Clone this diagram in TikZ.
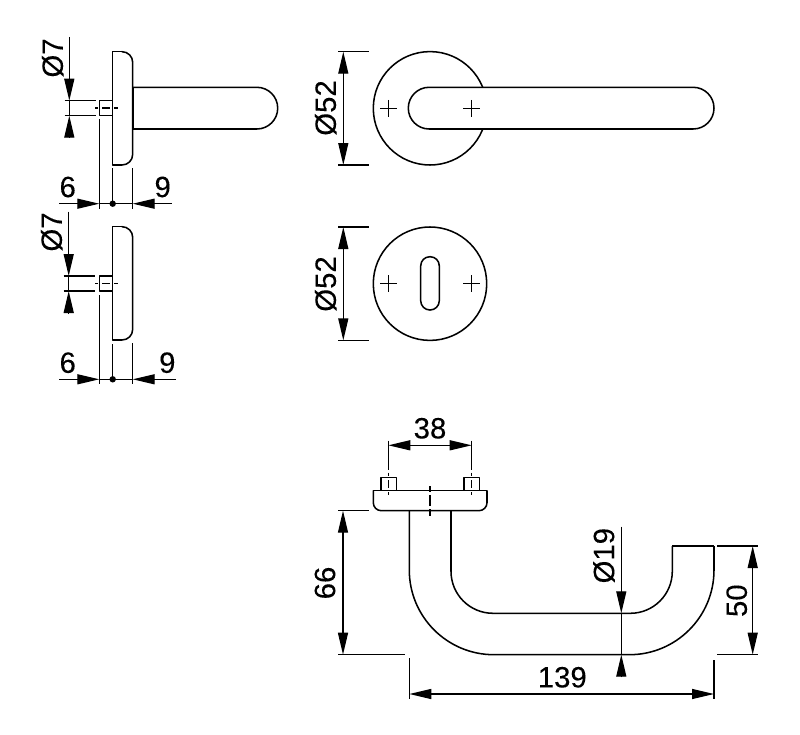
\documentclass[tikz,border=0pt]{standalone}
\usepackage{fontspec}
\setmainfont[FakeBold=0.15]{Liberation Sans}
\usetikzlibrary{arrows.meta}
\tikzset{
  part/.style={draw=black,line width=1.15pt,line join=round},
  partfill/.style={part,fill=white},
  dimline/.style={draw=black,line width=1pt,-{Triangle[length=16.5pt,width=7.5pt]}},
  dimboth/.style={draw=black,line width=1pt,{Triangle[length=16.5pt,width=7.5pt]}-{Triangle[length=16.5pt,width=7.5pt]}},
  ext/.style={draw=black,line width=1pt},
  cross/.style={draw=black,line width=1pt},
  hidden/.style={draw=black,line width=0.85pt,dash pattern=on 2.5pt off 3pt on 6pt off 3pt on 2.5pt},
  hiddenlong/.style={draw=black,line width=0.85pt,dash pattern=on 4.5pt off 2.5pt on 8pt off 2.5pt on 5pt},
  lbl/.style={font=\fontsize{22}{22}\selectfont,inner sep=0pt,text=black},
  vlbl/.style={lbl,rotate=90}
}
\newcommand{\plus}[2]{\draw[cross] (#1-8.3,#2) -- (#1+8.3,#2) (#1,#2-8.3) -- (#1,#2+8.3);}
\begin{document}
\begin{tikzpicture}[x=0.75pt,y=-0.75pt]
\useasboundingbox (0,0) rectangle (800,735);
\fill[white] (0,0) rectangle (800,735);

% ---------- side view with lever ----------
\draw[part,rounded corners=15.6pt] (132.7,87.3) -- (277.7,87.3) -- (277.7,129) -- (132.7,129);
\draw[part] (121.7,51.7) -- (112.7,51.7) -- (112.7,165) -- (121.7,165);
\draw[part,rounded corners=8pt] (121.7,51.7) -- (132.7,51.7) -- (132.7,165) -- (121.7,165);
\draw[part,line width=1.7pt] (133.2,87.3) -- (133.2,129);
\draw[part] (112.7,100.7) -- (99.3,100.7) -- (99.3,115.7) -- (112.7,115.7);
\draw[hidden] (95,108) -- (118,108);
% O7
\draw[dimline] (69.3,37) -- (69.3,100.7);
\draw[ext] (69.3,100.7) -- (69.3,115.7);
\draw[dimline] (69.3,138) -- (69.3,115.7);
\draw[ext] (64.7,100.7) -- (95.7,100.7) (64.7,115.7) -- (95.7,115.7);
\node[vlbl] (d7a) at (52.7,58) {Ø7};
% 6 / 9
\draw[ext] (99.3,119) -- (99.3,209) (112.7,168) -- (112.7,205) (132.7,168) -- (132.7,209);
\draw[dimline] (59,203.7) -- (99.3,203.7);
\draw[dimline] (171.7,203.7) -- (132.7,203.7);
\draw[ext] (99.3,203.7) -- (132.7,203.7);
\fill[black] (112.7,203.7) circle[radius=3.2];
\node[lbl] (d6a) at (67.7,187) {6};
\node[lbl] (d9a) at (162.7,187) {9};

% ---------- side view of escutcheon ----------
\draw[part] (121.7,226.7) -- (112.7,226.7) -- (112.7,340) -- (121.7,340);
\draw[part,rounded corners=8pt] (121.7,226.7) -- (132.7,226.7) -- (132.7,340) -- (121.7,340);
\draw[part] (112.7,276) -- (99.3,276) -- (99.3,291) -- (112.7,291);
\draw[hidden] (95,283.3) -- (118,283.3);
\draw[dimline] (68.7,211.7) -- (68.7,276);
\draw[ext] (68.7,276) -- (68.7,291);
\draw[dimline] (68.7,314) -- (68.7,291);
\draw[ext] (63.7,276) -- (95,276) (63.7,291) -- (95,291);
\node[vlbl] (d7b) at (51.7,232) {Ø7};
\draw[ext] (99.3,295) -- (99.3,384) (112.7,344) -- (112.7,380) (132.7,343) -- (132.7,384);
\draw[dimline] (59,379.3) -- (99.3,379.3);
\draw[dimline] (176,379.3) -- (132.7,379.3);
\draw[ext] (99.3,379.3) -- (132.7,379.3);
\fill[black] (112.7,379.3) circle[radius=3.2];
\node[lbl] (d6b) at (67.7,362.7) {6};
\node[lbl] (d9b) at (167.3,362.7) {9};

% ---------- front view with lever ----------
\draw[part] (430,108.3) circle[radius=56.7];
\draw[partfill,rounded corners=15.6pt] (408.3,87.3) rectangle (714,129);
\plus{388.3}{108.3}
\plus{471.7}{108.3}
\draw[ext] (338.3,51.7) -- (369.3,51.7) (338.3,165) -- (369.3,165);
\coordinate (ta) at (343.3,51.7);
\coordinate (tb) at (343.3,165);
\draw[dimboth] (ta) -- (tb);
\node[vlbl] (d52a) at (325.7,108) {Ø52};

% ---------- front view of escutcheon ----------
\draw[part] (430,283.7) circle[radius=56.7];
\draw[part,rounded corners=6.9pt] (420.7,256.7) rectangle (439.3,310);
\plus{388.3}{283.7}
\plus{471.7}{283.7}
\draw[ext] (338.3,227) -- (369.3,227) (338.3,340.4) -- (369.3,340.4);
\coordinate (tc) at (343.3,227);
\coordinate (td) at (343.3,340.4);
\draw[dimboth] (tc) -- (td);
\node[vlbl] (d52b) at (325.7,284) {Ø52};

% ---------- top view ----------
\draw[part] (381,490.3) -- (381,477.3) -- (396.7,477.3) -- (396.7,490.3);
\draw[part] (464,490.3) -- (464,477.3) -- (479.3,477.3) -- (479.3,490.3);
\draw[part] (373.3,490.3) -- (487,490.3);
\draw[part,rounded corners=6pt] (373.3,490.3) -- (373.3,510.7) -- (487,510.7) -- (487,490.3);
% handle
\draw[part,rounded corners=63.5pt] (409.3,510.7) -- (409.3,654.7) -- (714,654.7) -- (714,546);
\draw[part] (714,546) -- (672.3,546);
\draw[part,rounded corners=31.5pt] (451,510.7) -- (451,613.3) -- (672.3,613.3) -- (672.3,546);
\draw[hidden] (388.3,472.7) -- (388.3,495.7);
\draw[hidden] (471.7,472.7) -- (471.7,495.7);
\draw[hiddenlong] (430,486) -- (430,516);
% 38
\draw[ext] (388.3,440.7) -- (388.3,470) (471.7,440.7) -- (471.7,470);
\coordinate (te) at (388.3,445.3);
\coordinate (tf) at (471.7,445.3);
\draw[dimboth] (te) -- (tf);
\node[lbl] (d38) at (430,428.3) {38};
% 66
\draw[ext] (338,510.7) -- (369,510.7) (338,654.7) -- (405,654.7);
\coordinate (tg) at (343,510.7);
\coordinate (th) at (343,654.7);
\draw[dimboth] (tg) -- (th);
\node[vlbl] (d66) at (325,583) {66};
% 50
\draw[ext] (717.3,546) -- (757.7,546) (717.3,654.7) -- (757.7,654.7);
\coordinate (ti) at (752.7,546);
\coordinate (tj) at (752.7,654.7);
\draw[dimboth] (ti) -- (tj);
\node[vlbl] (d50) at (736.7,600.7) {50};
% 139
\draw[ext] (409.3,658.3) -- (409.3,699) (714,660.3) -- (714,699);
\coordinate (tk) at (409.3,694);
\coordinate (tl) at (714,694);
\draw[dimboth] (tk) -- (tl);
\node[lbl] (d139) at (562.3,677.3) {139};
% O19
\draw[dimline] (621.3,526.7) -- (621.3,613.3);
\draw[ext] (621.3,613.3) -- (621.3,654.7);
\draw[dimline] (621.3,677.3) -- (621.3,654.7);
\node[vlbl] (d19) at (604,555.7) {Ø19};
\end{tikzpicture}
\end{document}
